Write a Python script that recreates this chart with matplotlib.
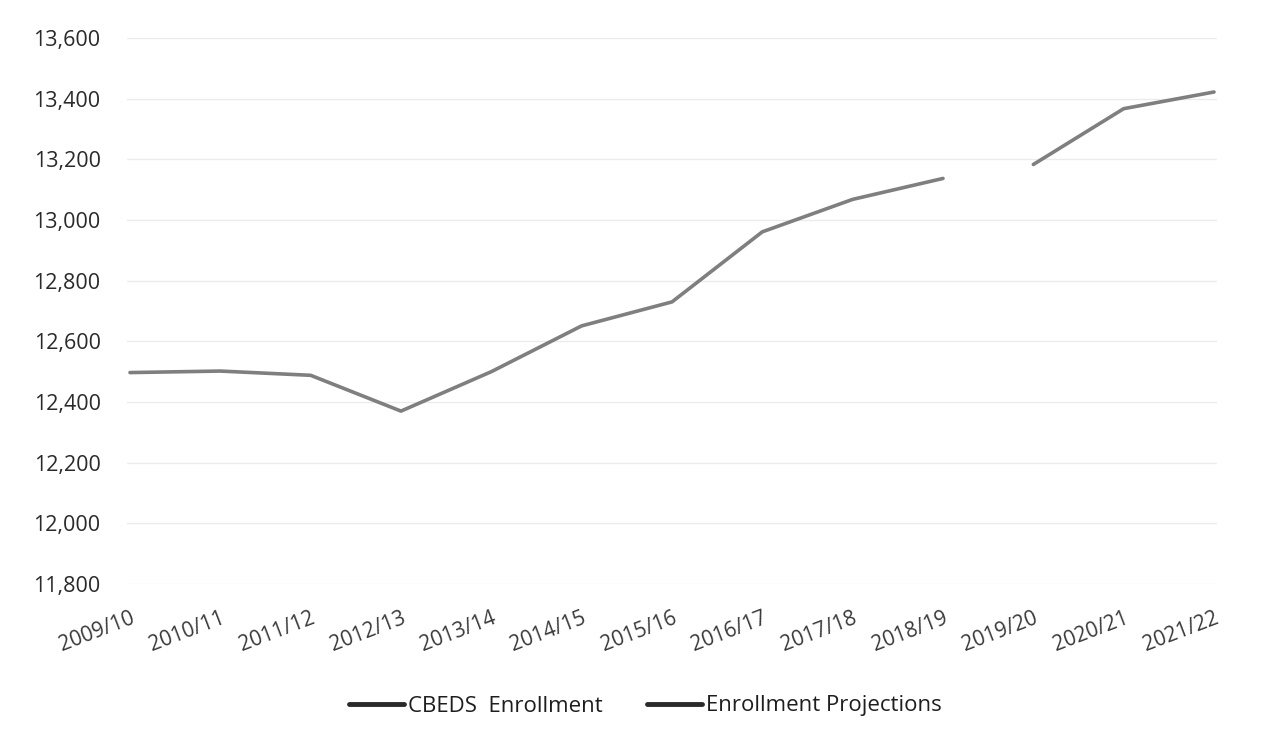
import matplotlib
matplotlib.use("Agg")
import matplotlib.pyplot as plt
from matplotlib.ticker import FuncFormatter

years = ["2009/10", "2010/11", "2011/12", "2012/13", "2013/14", "2014/15", "2015/16",
         "2016/17", "2017/18", "2018/19", "2019/20", "2020/21", "2021/22"]
cbeds_years = years[:10]
cbeds_values = [12497, 12502, 12488, 12370, 12500, 12651, 12730, 12961, 13068, 13137]
proj_years = years[10:]
proj_values = [13183, 13367, 13422]
y_ticks = [11800, 12000, 12200, 12400, 12600, 12800, 13000, 13200, 13400, 13600]

plt.rcParams['font.family'] = ['Open Sans', 'DejaVu Sans']

fig = plt.figure(figsize=(12.63, 7.44), dpi=100)
ax = fig.add_axes([127/1263, 1-584/744, (1217-127)/1263, (584-38)/744])

idx = {y: i for i, y in enumerate(years)}
l1, = ax.plot([idx[y] for y in cbeds_years], cbeds_values, color='#7f7f7f', lw=2.6,
              solid_capstyle='round', label='CBEDS  Enrollment')
l2, = ax.plot([idx[y] for y in proj_years], proj_values, color='#7f7f7f', lw=2.6,
              solid_capstyle='round', label='Enrollment Projections')

ax.set_xlim(-0.033, len(years) - 1 + 0.033)
ax.set_ylim(y_ticks[0], y_ticks[-1])
ax.set_yticks(y_ticks)
ax.yaxis.set_major_formatter(FuncFormatter(lambda v, p: f"{int(v):,}"))
ax.set_xticks(range(len(years)))
ax.set_xticklabels(years, rotation=21, ha='right', rotation_mode='anchor')
ax.tick_params(axis='y', length=0, labelsize=15.5, colors='#2a2a2a', pad=19)
ax.tick_params(axis='x', length=0, labelsize=15, colors='#3a3a3a', pad=17)
ax.grid(axis='y', color='#ebebeb', lw=1)
ax.set_axisbelow(True)
for s in ax.spines.values():
    s.set_visible(False)

leg = fig.legend(handles=[l1, l2], loc='center', bbox_to_anchor=(645/1263, 1-706/744),
                 ncol=2, frameon=False, fontsize=16, handlelength=2.5, handletextpad=0.15,
                 columnspacing=2.0)
for line in leg.get_lines():
    line.set_color('#2a2a2a')
    line.set_linewidth(3.5)
for t in leg.get_texts():
    t.set_color('#1e1e1e')

fig.savefig('out.png', dpi=100, facecolor='white')
